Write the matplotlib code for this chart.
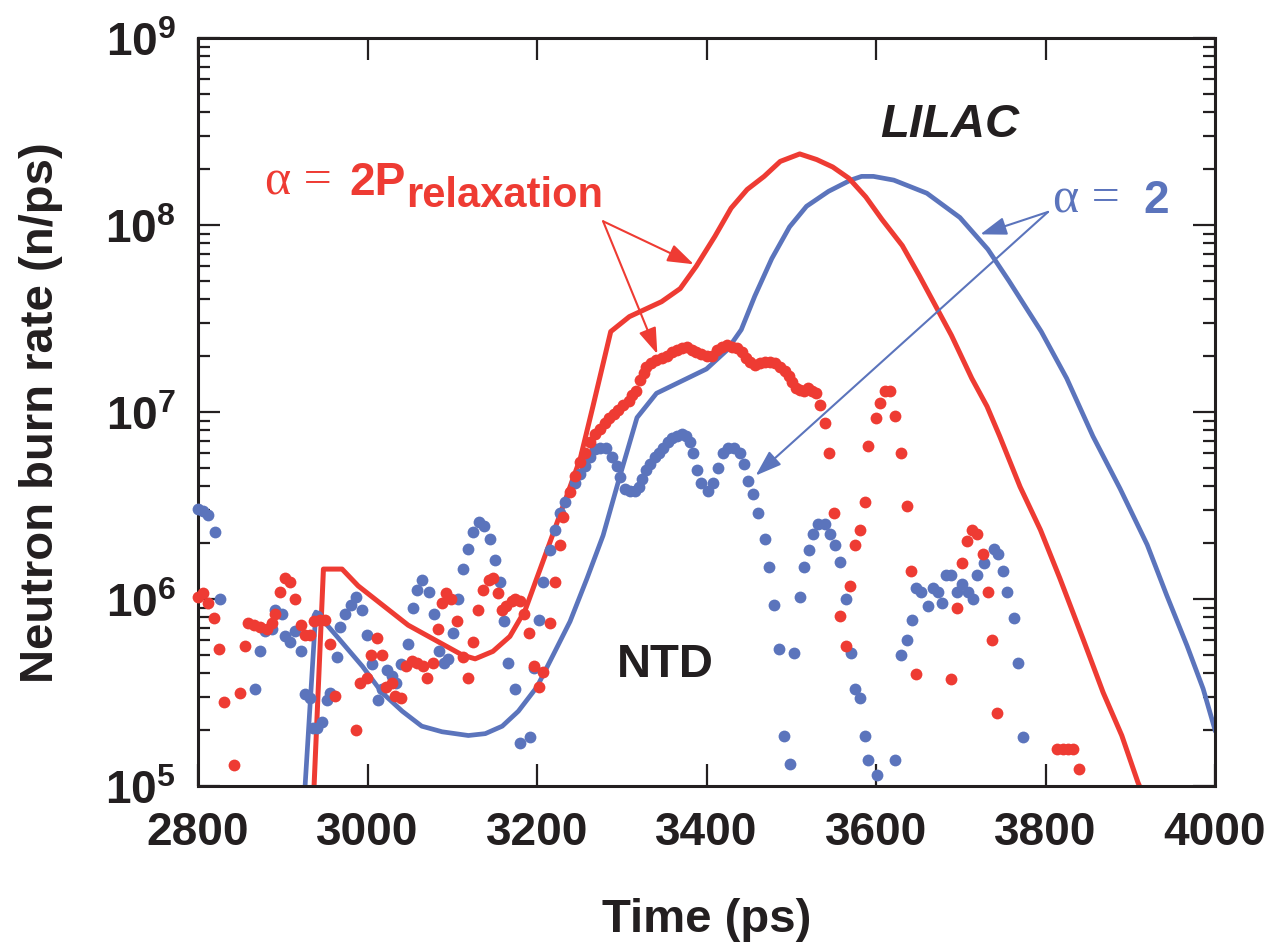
import numpy as np
import matplotlib
matplotlib.use('Agg')
import matplotlib.pyplot as plt
from matplotlib.ticker import LogLocator, FuncFormatter, NullLocator

plt.rcParams['font.family'] = ['Liberation Sans', 'DejaVu Sans']
plt.rcParams['font.weight'] = 'bold'
plt.rcParams['mathtext.fontset'] = 'custom'
plt.rcParams['mathtext.rm'] = 'Liberation Sans:bold'
plt.rcParams['mathtext.bf'] = 'Liberation Sans:bold'

RED = '#ee3b33'
BLUE = '#5b74bc'
INK = '#231f20'

# simulated burn rate, alpha = 2P_relaxation (time in ps, log10 of n/ps)
red_line_t = [2936, 2948, 2970, 2989, 3048, 3112, 3127, 3148, 3168, 3186, 3215, 3235,
              3251, 3266, 3287, 3309, 3347, 3369, 3388, 3410, 3429, 3448, 3468, 3487,
              3510, 3530, 3549, 3568, 3588, 3607, 3631, 3651, 3670, 3689, 3713, 3731,
              3746, 3770, 3794, 3817, 3844, 3868, 3890, 3909, 3925]
red_line_log = [4.90, 6.16, 6.16, 6.07, 5.86, 5.70, 5.68, 5.72, 5.80, 5.94, 6.30, 6.55,
                6.75, 7.03, 7.43, 7.51, 7.59, 7.66, 7.78, 7.94, 8.09, 8.19, 8.26, 8.34,
                8.38, 8.35, 8.31, 8.25, 8.15, 8.03, 7.89, 7.73, 7.57, 7.41, 7.18, 7.03,
                6.87, 6.60, 6.37, 6.11, 5.79, 5.50, 5.27, 5.02, 4.85]

# simulated burn rate, alpha = 2
blue_line_t = [2925, 2939, 2962, 2994, 3017, 3041, 3064, 3088, 3119, 3139, 3159, 3178,
               3200, 3219, 3239, 3259, 3278, 3298, 3318, 3341, 3400, 3424, 3441, 3457,
               3477, 3498, 3518, 3544, 3570, 3583, 3597, 3621, 3660, 3699, 3732, 3757,
               3795, 3825, 3856, 3888, 3920, 3943, 3967, 3986, 4000]
blue_line_log = [4.90, 5.93, 5.81, 5.64, 5.50, 5.40, 5.32, 5.29, 5.27, 5.28, 5.32, 5.40,
                 5.53, 5.70, 5.88, 6.11, 6.34, 6.66, 6.97, 7.10, 7.23, 7.33, 7.44, 7.62,
                 7.82, 7.99, 8.10, 8.18, 8.24, 8.26, 8.26, 8.24, 8.17, 8.04, 7.87, 7.70,
                 7.43, 7.18, 6.87, 6.59, 6.29, 6.02, 5.75, 5.52, 5.30]

# NTD measurement, shot with alpha = 2 (dots)
blue_dot_t = [2800, 2806, 2812, 2820, 2826, 2867, 2873, 2879, 2887, 2891, 2899, 2903, 2909,
              2914, 2922, 2926, 2932, 2936, 2940, 2946, 2940, 2952, 2956, 2964, 2968, 2974,
              2981, 2987, 2993, 2999, 3005, 3012, 3017, 3023, 3029, 3034, 3040, 3048, 3054,
              3058, 3064, 3072, 3078, 3084, 3090, 3095, 3101, 3107, 3113, 3119, 3125, 3131,
              3138, 3145, 3151, 3156, 3161, 3166, 3174, 3180, 3192, 3196, 3202, 3207,
              3215, 3221, 3227, 3233, 3245, 3251, 3257, 3263, 3268, 3274, 3281, 3288, 3294,
              3298, 3304, 3310, 3316, 3320, 3324, 3329, 3333, 3339, 3344, 3349, 3354, 3359,
              3365, 3371, 3376, 3380, 3384, 3389, 3394, 3402, 3408, 3414, 3419, 3425, 3432,
              3439, 3444, 3449, 3455, 3461, 3469, 3474, 3480, 3486, 3491, 3499, 3503, 3510,
              3515, 3521, 3526, 3532, 3540, 3546, 3552, 3558, 3565, 3570, 3575, 3581, 3587,
              3591, 3601, 3623, 3630, 3636, 3642, 3647, 3653, 3661, 3667, 3673, 3678, 3683,
              3689, 3695, 3702, 3708, 3714, 3719, 3727, 3739, 3744, 3750, 3755, 3763, 3768,
              3774]
blue_dot_log = [6.48, 6.47, 6.45, 6.36, 6.00, 5.52, 5.72, 5.83, 5.84, 5.94, 5.92, 5.80, 5.77,
                5.83, 5.72, 5.49, 5.47, 5.31, 5.31, 5.34, 5.91, 5.46, 5.50, 5.69, 5.85, 5.92,
                5.97, 6.01, 5.94, 5.81, 5.65, 5.46, 5.52, 5.62, 5.59, 5.55, 5.65, 5.76, 5.95,
                6.05, 6.10, 6.04, 5.92, 5.72, 5.66, 5.68, 5.82, 6.00, 6.16, 6.27, 6.36, 6.41,
                6.39, 6.32, 6.21, 6.09, 5.88, 5.66, 5.52, 5.23, 5.26, 5.63, 5.89, 6.09,
                6.26, 6.37, 6.46, 6.52, 6.62, 6.67, 6.71, 6.76, 6.80, 6.81, 6.81, 6.76, 6.71,
                6.65, 6.59, 6.58, 6.58, 6.60, 6.64, 6.69, 6.72, 6.76, 6.78, 6.81, 6.84, 6.86,
                6.87, 6.88, 6.87, 6.84, 6.78, 6.69, 6.62, 6.58, 6.62, 6.70, 6.78, 6.81, 6.81,
                6.78, 6.72, 6.63, 6.56, 6.46, 6.32, 6.17, 5.97, 5.73, 5.27, 5.12, 5.71, 6.01,
                6.17, 6.26, 6.35, 6.40, 6.40, 6.35, 6.29, 6.20, 6.00, 5.71, 5.52, 5.47, 5.27,
                5.14, 5.06, 5.14, 5.70, 5.78, 5.89, 6.06, 6.04, 5.96, 6.06, 6.04, 5.98, 6.13,
                6.13, 6.04, 6.08, 6.04, 6.00, 6.13, 6.19, 6.27, 6.24, 6.15, 6.04, 5.90, 5.66,
                5.26]

# NTD measurement, shot with alpha = 2P_relaxation (dots)
red_dot_t = [2800, 2806, 2812, 2819, 2825, 2831, 2842, 2850, 2855, 2859, 2866, 2873, 2881,
             2887, 2891, 2897, 2903, 2909, 2915, 2922, 2926, 2932, 2937, 2944, 2950, 2956,
             2962, 2986, 2991, 2999, 3004, 3011, 3017, 3022, 3029, 3033, 3040, 3046, 3052,
             3058, 3065, 3070, 3077, 3083, 3088, 3093, 3099, 3106, 3113, 3118, 3124, 3130,
             3136, 3143, 3148, 3154, 3159, 3164, 3170, 3174, 3180, 3185, 3191, 3196, 3202,
             3207, 3215, 3221, 3227, 3231, 3239, 3245, 3251, 3257, 3263, 3268, 3274, 3280,
             3285, 3291, 3296, 3302, 3308, 3312, 3317, 3321, 3326, 3329, 3335, 3341, 3347,
             3353, 3359, 3365, 3371, 3377, 3383, 3388, 3394, 3400, 3406, 3412, 3418, 3424,
             3430, 3436, 3442, 3447, 3451, 3457, 3463, 3469, 3475, 3481, 3487, 3493, 3497,
             3501, 3506, 3510, 3515, 3520, 3525, 3529, 3534, 3540, 3545, 3550, 3557, 3565,
             3569, 3575, 3581, 3587, 3591, 3600, 3605, 3611, 3617, 3623, 3630, 3636, 3641,
             3647, 3688, 3696, 3702, 3707, 3713, 3719, 3726, 3732, 3737, 3743, 3813, 3821,
             3827, 3833, 3840]
red_dot_log = [6.01, 6.03, 5.98, 5.90, 5.73, 5.45, 5.11, 5.50, 5.75, 5.87, 5.86, 5.85, 5.84,
               5.87, 5.92, 6.04, 6.11, 6.09, 6.00, 5.86, 5.81, 5.81, 5.88, 5.89, 5.89, 5.76,
               5.48, 5.30, 5.55, 5.58, 5.70, 5.79, 5.70, 5.53, 5.55, 5.48, 5.47, 5.64, 5.67,
               5.66, 5.64, 5.58, 5.66, 5.84, 5.98, 6.03, 6.00, 5.88, 5.69, 5.58, 5.77, 5.94,
               6.05, 6.10, 6.11, 6.03, 5.94, 5.96, 5.99, 6.00, 5.99, 5.92, 5.82, 5.64, 5.53,
               5.61, 5.87, 6.09, 6.29, 6.44, 6.57, 6.66, 6.73, 6.78, 6.84, 6.88, 6.91, 6.94,
               6.97, 6.99, 7.01, 7.04, 7.06, 7.09, 7.11, 7.17, 7.21, 7.24, 7.26, 7.28, 7.29,
               7.30, 7.32, 7.33, 7.34, 7.35, 7.33, 7.32, 7.31, 7.30, 7.30, 7.33, 7.35, 7.36,
               7.35, 7.34, 7.32, 7.29, 7.27, 7.25, 7.26, 7.27, 7.27, 7.26, 7.24, 7.22, 7.19,
               7.16, 7.13, 7.12, 7.11, 7.13, 7.11, 7.10, 7.04, 6.94, 6.78, 6.46, 5.91, 5.75,
               6.07, 6.29, 6.37, 6.52, 6.82, 6.97, 7.05, 7.11, 7.11, 6.98, 6.78, 6.50, 6.15,
               5.60, 5.57, 5.95, 6.19, 6.31, 6.37, 6.35, 6.24, 6.04, 5.78, 5.39, 5.20, 5.20,
               5.20, 5.20, 5.09]

fig = plt.figure(figsize=(12.75, 9.45), dpi=100)
ax = fig.add_axes([198 / 1275, 1 - 787 / 945, 1017 / 1275, 748 / 945])

ax.plot(blue_line_t, 10 ** np.array(blue_line_log), color=BLUE, lw=3.4, zorder=2)
ax.plot(red_line_t, 10 ** np.array(red_line_log), color=RED, lw=3.6, zorder=2)
ax.plot(blue_dot_t, 10 ** np.array(blue_dot_log), 'o', color=BLUE, ms=8.5, mec='none',
        zorder=3, clip_on=False)
ax.plot(red_dot_t, 10 ** np.array(red_dot_log), 'o', color=RED, ms=8.5, mec='none',
        zorder=4, clip_on=False)

ax.set_yscale('log')
ax.set_xlim(2800, 4000)
ax.set_ylim(1e5, 1e9)
ax.set_xticks(range(2800, 4001, 200))
ax.xaxis.set_minor_locator(NullLocator())
ax.yaxis.set_major_locator(LogLocator(base=10, numticks=10))
ax.yaxis.set_minor_locator(LogLocator(base=10, subs=np.arange(2, 10), numticks=20))
ax.yaxis.set_major_formatter(FuncFormatter(lambda v, p: r'$\mathbf{10^{%d}}$' % round(np.log10(v))))

ax.tick_params(which='both', direction='in', top=True, right=True, width=1.6, color=INK,
               labelcolor=INK)
ax.tick_params(which='major', length=16, labelsize=33)
ax.tick_params(axis='x', which='major', pad=17)
ax.tick_params(axis='y', which='major', pad=16)
ax.tick_params(which='minor', length=8.5)
for s in ax.spines.values():
    s.set_linewidth(2.2)
    s.set_color(INK)

ax.set_xlabel('Time (ps)', fontsize=34, fontweight='bold', color=INK)
ax.set_ylabel('Neutron burn rate (n/ps)', fontsize=34, fontweight='bold', color=INK)
ax.xaxis.set_label_coords(0.5, -0.148)
ax.yaxis.set_label_coords(-0.133, 0.5)

# labels inside the plot
serif = ['Liberation Serif', 'DejaVu Serif']
ax.text(2879, 10 ** 8.166, '\u03b1 =', fontsize=36, family=serif, fontweight='normal', color=RED)
ax.text(2979, 10 ** 8.166, '2P', fontsize=33, fontweight='bold', color=RED)
ax.text(3046, 10 ** 8.10, 'relaxation', fontsize=30, fontweight='bold', color=RED)
ax.text(3809, 10 ** 8.07, '\u03b1 =', fontsize=36, family=serif, fontweight='normal', color=BLUE)
ax.text(3915, 10 ** 8.07, '2', fontsize=33, fontweight='bold', color=BLUE)
ax.text(3605, 10 ** 8.476, 'LILAC', fontsize=34, fontweight='bold', style='italic', color=INK)
ax.text(3294, 10 ** 5.588, 'NTD', fontsize=34, fontweight='bold', color=INK)

def arrow(tail, tip, c):
    ax.annotate('', xy=(tip[0], 10 ** tip[1]), xytext=(tail[0], 10 ** tail[1]),
                arrowprops=dict(arrowstyle='-|>,head_length=1.6,head_width=0.55',
                                color=c, lw=1.5, shrinkA=0, shrinkB=0, mutation_scale=10),
                zorder=5)

arrow((3278, 8.02), (3385, 7.79), RED)
arrow((3278, 8.02), (3342, 7.31), RED)
arrow((3803, 8.07), (3723, 7.95), BLUE)
arrow((3803, 8.07), (3458, 6.66), BLUE)

fig.savefig('out.png', dpi=100)
